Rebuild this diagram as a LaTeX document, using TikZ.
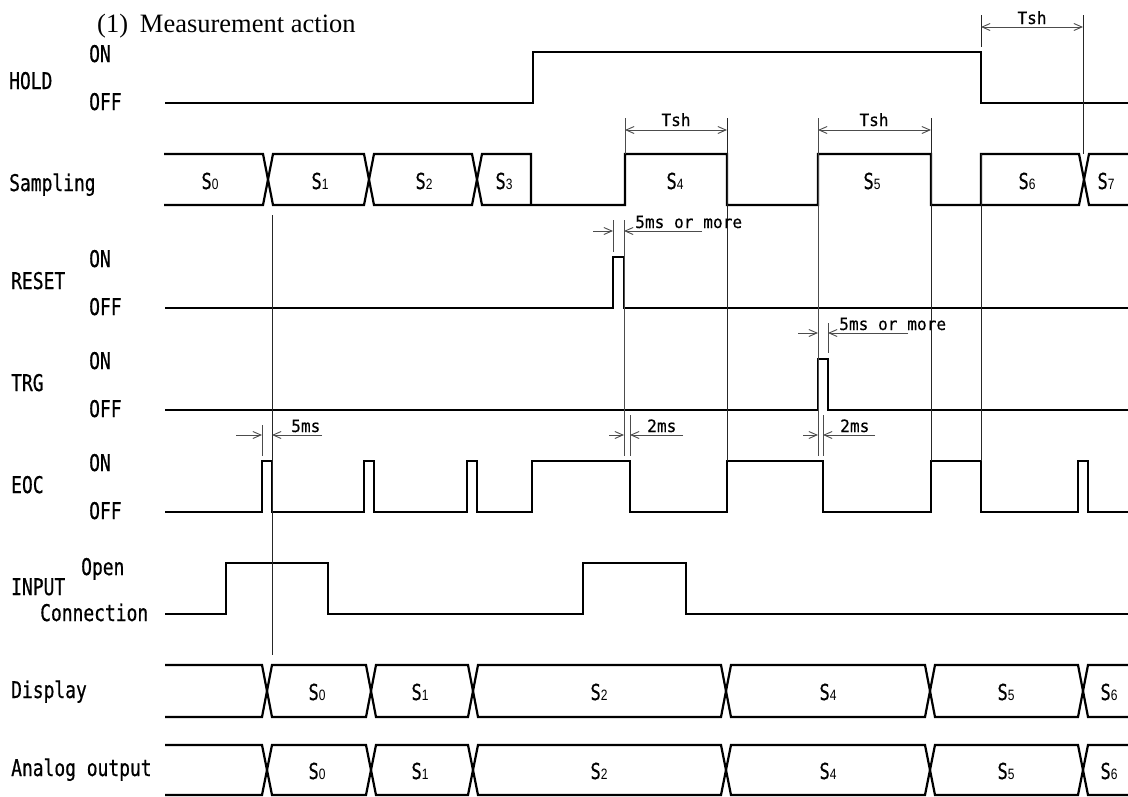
\documentclass[tikz,border=0pt]{standalone}
\usepackage{fontspec}
\usetikzlibrary{arrows.meta}
\setmainfont{Liberation Serif}
\newfontfamily\lblfont[FakeStretch=0.78, FakeBold=0.6]{DejaVu Sans Mono}
\newfontfamily\annfont[FakeStretch=0.95, FakeBold=0.4]{DejaVu Sans Mono}
\newfontfamily\idxfont[FakeStretch=0.8]{Liberation Sans}
\newcommand{\sidx}[1]{{\idxfont\fontsize{15}{15}\selectfont #1}}

\begin{document}
\begin{tikzpicture}[x=1pt, y=-1pt,
        sig/.style={line width=2.2pt, line join=miter},
        guide/.style={line width=0.9pt, black!85},
        dim/.style={line width=0.9pt, black!70},
        dimarr/.style={dim, -{Straight Barb[length=8pt,width=7pt]}},
        dimboth/.style={dim, {Straight Barb[length=8pt,width=7pt]}-{Straight Barb[length=8pt,width=7pt]}},
        lbl/.style={anchor=base west, inner sep=0pt, font=\lblfont\fontsize{23}{23}\selectfont},
        seg/.style={inner sep=0pt, font=\lblfont\fontsize{22}{22}\selectfont},
        ann/.style={anchor=base west, inner sep=0pt, font=\annfont\fontsize{17}{17}\selectfont}
      ]
        \fill[white] (0,0) rectangle (1128,796);
        \useasboundingbox (0,0) rectangle (1128,796);

        \node[anchor=base west, inner sep=0pt, font=\fontsize{26.5}{26.5}\selectfont] (title) at (97,32) {(1)\hspace{0.45em}Measurement action};

        \node[lbl] (hold) at (9,89) {HOLD};
        \node[lbl] (samp) at (9,191) {Sampling};
        \node[lbl] (reset) at (11,289) {RESET};
        \node[lbl] (trg) at (11,391) {TRG};
        \node[lbl] (eoc) at (11,493) {EOC};
        \node[lbl] (input) at (11,595) {INPUT};
        \node[lbl] (open) at (81,575) {Open};
        \node[lbl] (conn) at (40,621) {Connection};
        \node[lbl] (disp) at (11,698) {Display};
        \node[lbl] (ana) at (11,776) {Analog output};
        \foreach \nm/\yon/\yoff in {hold/52/103, reset/257/308, trg/359/410, eoc/461/512} {
          \node[lbl] (\nm-on) at (89,\yon+10) {ON};
          \node[lbl] (\nm-off) at (89,\yoff+7) {OFF};
        }

        \draw[sig] (165,103) -- (533,103) -- (533,52) -- (981,52) -- (981,103) -- (1128,103);

        \draw[sig] (164,154) -- (263,154) -- (273,205) -- (364,205) -- (374,154) -- (472,154) -- (482,205)
          -- (625,205) -- (625,154) -- (727,154) -- (727,205) -- (818,205) -- (818,154) -- (931,154)
          -- (931,205) -- (981,205) -- (981,154) -- (1079,154) -- (1089,205) -- (1128,205);
        \draw[sig] (164,205) -- (263,205) -- (273,154) -- (364,154) -- (374,205) -- (472,205) -- (482,154)
          -- (531,154) -- (531,205);
        \draw[sig] (981,205) -- (1079,205) -- (1089,154) -- (1128,154);
        \foreach \x/\s in {210/0, 320/1, 424/2, 504/3, 675/4, 872/5, 1027/6, 1106/7}
          \node[seg] (samp-\s) at (\x,181) {S\sidx{\s}};

        \draw[sig] (165,308) -- (613,308) -- (613,257) -- (624,257) -- (624,308) -- (1128,308);
        \draw[sig] (165,410) -- (818,410) -- (818,359) -- (828,359) -- (828,410) -- (1128,410);
        \draw[sig] (165,512) -- (262,512) -- (262,461) -- (272,461) -- (272,512) -- (364,512) -- (364,461)
          -- (374,461) -- (374,512) -- (467,512) -- (467,461) -- (477,461) -- (477,512) -- (532,512)
          -- (532,461) -- (630,461) -- (630,512) -- (727,512) -- (727,461) -- (823,461) -- (823,512)
          -- (931,512) -- (931,461) -- (981,461) -- (981,512) -- (1078,512) -- (1078,461) -- (1088,461)
          -- (1088,512) -- (1128,512);
        \draw[sig] (165,614) -- (226,614) -- (226,563) -- (328,563) -- (328,614) -- (583,614) -- (583,563)
          -- (686,563) -- (686,614) -- (1128,614);

        \foreach \ya/\yb in {665/717, 717/665, 745/795, 795/745}
          \draw[sig] (165,\ya) -- (262,\ya) -- (272,\yb) -- (366,\yb) -- (376,\ya) -- (468,\ya) -- (478,\yb)
            -- (721,\yb) -- (731,\ya) -- (925,\ya) -- (935,\yb) -- (1078,\yb) -- (1088,\ya) -- (1128,\ya);
        \foreach \x/\s in {317/0, 420/1, 599/2, 828/4, 1006/5, 1109/6} {
          \node[seg] (disp-\s) at (\x,692) {S\sidx{\s}};
          \node[seg] (ana-\s) at (\x,771) {S\sidx{\s}};
        }

        \draw[guide] (272,215) -- (272,655);
        \draw[guide] (727,118) -- (727,461);
        \draw[guide] (931,118) -- (931,461);
        \draw[guide] (981,15) -- (981,47);
        \draw[guide] (981,154) -- (981,461);
        \draw[guide] (1083,15) -- (1083,154);
        \draw[dim] (625,118) -- (625,154);
        \draw[dim] (818,118) -- (818,456);
        \draw[dim] (613,220) -- (613,252);
        \draw[dim] (624,220) -- (624,456);
        \draw[dim] (828,323) -- (828,353);
        \draw[dim] (262,425) -- (262,456);
        \draw[dim] (630,415) -- (630,456);
        \draw[dim] (823,415) -- (823,456);

        \draw[dimboth] (981,27) -- (1083,27);
        \draw[dimboth] (625,130) -- (727,130);
        \draw[dimboth] (818,130) -- (931,130);
        \node[ann, anchor=base] (tsh-hold) at (1032,24) {Tsh};
        \node[ann, anchor=base] (tsh-s4) at (676,126) {Tsh};
        \node[ann, anchor=base] (tsh-s5) at (874,126) {Tsh};

        \draw[dimarr] (593,231) -- (613,231);
        \draw[dimarr] (702,231) -- (624,231);
        \node[ann] (wid-reset) at (635,228) {5ms or more};
        \draw[dimarr] (798,333) -- (818,333);
        \draw[dimarr] (908,333) -- (828,333);
        \node[ann] (wid-trg) at (839,330) {5ms or more};
        \draw[dimarr] (236,435) -- (262,435);
        \draw[dimarr] (322,435) -- (272,435);
        \node[ann] (wid-eoc) at (291,432) {5ms};
        \draw[dimarr] (609,435) -- (624,435);
        \draw[dimarr] (683,435) -- (630,435);
        \node[ann] (del-reset) at (647,432) {2ms};
        \draw[dimarr] (803,435) -- (818,435);
        \draw[dimarr] (875,435) -- (823,435);
        \node[ann] (del-trg) at (840,432) {2ms};
      \end{tikzpicture}
\end{document}
